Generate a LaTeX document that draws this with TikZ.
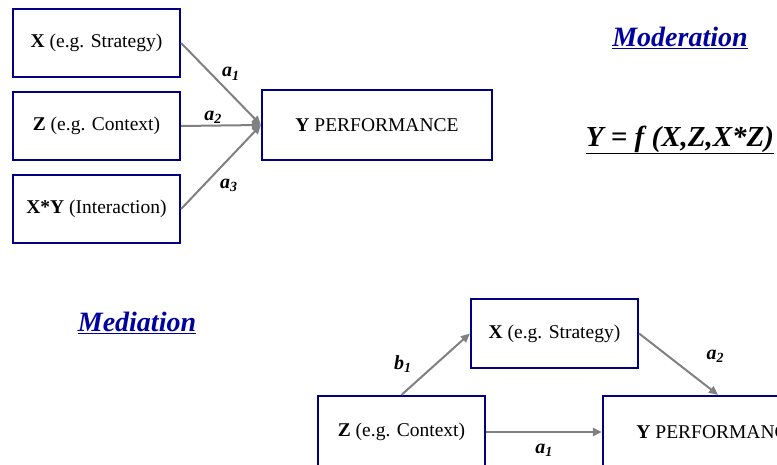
\documentclass[tikz,border=0pt]{standalone}
\usepackage{fontspec}
\setmainfont{Liberation Serif}
\usepackage{tikz}
\usetikzlibrary{arrows.meta, positioning, calc}
\definecolor{BoxNavy}{HTML}{000080}
\definecolor{TitleBlue}{HTML}{0000A0}
\definecolor{ArrGray}{HTML}{808080}
\newcommand{\coef}[2]{\textbf{\textit{#1\textsubscript{#2}}}}

\begin{document}
\begin{tikzpicture}[
  x=1pt, y=-1pt,
  box/.style={rectangle, draw=BoxNavy, line width=2.2pt, minimum width=167pt,
              minimum height=68pt, text centered, font=\fontsize{19.5}{21}\selectfont},
  ybox/.style={box, minimum width=230pt, minimum height=70pt},
  arr/.style={-{Triangle[length=9pt, width=8pt]}, line width=2pt, ArrGray},
  lbl/.style={font=\fontsize{20}{22}\selectfont, text=black, inner sep=1pt},
  ttl/.style={font=\fontsize{28}{30}\selectfont\bfseries\itshape, TitleBlue},
]
\useasboundingbox (0,0) rectangle (777,465);

% moderation
\node[box] (xs) at (96.5,43) {\textbf{X} (e.g. Strategy)};
\node[box] (zc) at (96.5,126) {\textbf{Z} (e.g. Context)};
\node[box] (xy) at (96.5,209) {\textbf{X*Y} (Interaction)};
\node[ybox] (yp) at (377,125) {\textbf{Y} PERFORMANCE};

\node[ttl] (modt) at (680,38) {\underline{Moderation}};
\node[font=\fontsize{29}{31}\selectfont\bfseries\itshape] (form) at (680,140)
  {\underline{Y = f (X,Z,X*Z)}};

\draw[arr] (xs.east) -- node[lbl, pos=0.55, above=6pt, xshift=6pt]{\coef{a}{1}} (yp.west);
\draw[arr] (zc.east) -- node[lbl, pos=0.4, above]{\coef{a}{2}} (yp.west);
\draw[arr] (xy.east) -- node[lbl, pos=0.55, below=14pt, xshift=4pt]{\coef{a}{3}} (yp.west);

% mediation
\node[ttl] (medt) at (137,323) {\underline{Mediation}};
\node[box, minimum height=69pt] (mx) at (554.5,333.5) {\textbf{X} (e.g. Strategy)};
\node[box, minimum height=72pt] (mz) at (401.5,432) {\textbf{Z} (e.g. Context)};
\node[ybox, minimum height=72pt] (my) at (718,432) {\textbf{Y} PERFORMANCE};

\draw[arr] (mz.north) -- node[lbl, left=22pt]{\coef{b}{1}} (mx.west);
\draw[arr] (mx.east) -- node[lbl, above right=0pt and 26pt]{\coef{a}{2}} (my.north);
\draw[arr] (mz.east) -- node[lbl, below=10pt]{\coef{a}{1}} (my.west);

\end{tikzpicture}
\end{document}
